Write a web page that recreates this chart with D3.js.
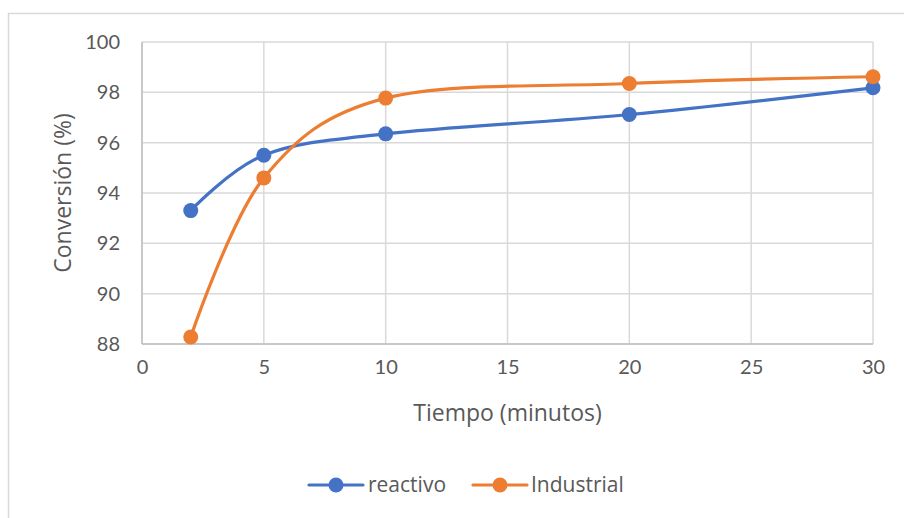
<!DOCTYPE html>
<html><head><meta charset="utf-8">
<script src="https://cdn.jsdelivr.net/npm/d3@7"></script>
<style>
html,body{margin:0;padding:0;background:#fff;}
svg{display:block;font-family:Lato,"Open Sans",sans-serif;}
</style></head>
<body>
<svg id="c" width="904" height="518"></svg>
<script>
const times = [2, 5, 10, 20, 30];
const reactivo = [93.3, 95.5, 96.35, 97.12, 98.18];
const industrial = [88.28, 94.6, 97.77, 98.35, 98.62];
const xTicks = [0, 5, 10, 15, 20, 25, 30];
const yTicks = [88, 90, 92, 94, 96, 98, 100];
const seriesNames = ["reactivo", "Industrial"];
const colors = ["#4472c4", "#ed7d31"];

const svg = d3.select("#c");
// outer frame
svg.append("rect").attr("x", 8.5).attr("y", 13.5).attr("width", 1000).attr("height", 1000)
  .attr("fill", "none").attr("stroke", "#d9d9d9").attr("stroke-width", 1.5);

const L = 142, R = 873, T = 42, B = 344;
const x = d3.scaleLinear().domain([0, 30]).range([L, R]);
const y = d3.scaleLinear().domain([88, 100]).range([B, T]);

const grid = svg.append("g");
grid.selectAll("line.v").data(xTicks).join("line")
  .attr("x1", d => x(d)).attr("x2", d => x(d)).attr("y1", T).attr("y2", B)
  .attr("stroke", "#d9d9d9").attr("stroke-width", 1.5);
grid.selectAll("line.h").data(yTicks).join("line")
  .attr("y1", d => y(d)).attr("y2", d => y(d)).attr("x1", L).attr("x2", R)
  .attr("stroke", "#d9d9d9").attr("stroke-width", 1.5);
// axis lines
svg.append("line").attr("x1", L).attr("x2", L).attr("y1", T).attr("y2", B).attr("stroke", "#bfbfbf").attr("stroke-width", 1.5);
svg.append("line").attr("x1", L).attr("x2", R).attr("y1", B).attr("y2", B).attr("stroke", "#bfbfbf").attr("stroke-width", 1.5);

const xAxis = d3.axisBottom(x).tickValues(xTicks).tickSize(0).tickPadding(16);
const gx = svg.append("g").attr("transform", `translate(0,${B})`).call(xAxis);
gx.select(".domain").remove();
gx.selectAll("text").attr("fill", "#595959").style("font-size", "20px").style("font-family", "Lato");

const yAxis = d3.axisLeft(y).tickValues(yTicks).tickSize(0).tickPadding(22);
const gy = svg.append("g").attr("transform", `translate(${L},0)`).call(yAxis);
gy.select(".domain").remove();
gy.selectAll("text").attr("fill", "#595959").style("font-size", "20px").style("font-family", "Lato");

svg.append("text").attr("x", (L + R) / 2).attr("y", 421).attr("text-anchor", "middle")
  .attr("fill", "#595959").style("font-family", "'Open Sans'").style("font-size", "23px").text("Tiempo (minutos)");
svg.append("text").attr("transform", `translate(71,${(T + B) / 2}) rotate(-90)`).attr("text-anchor", "middle")
  .attr("fill", "#595959").style("font-family", "'Open Sans'").style("font-size", "23px").text("Conversión (%)");

const line = d3.line().x(d => x(d[0])).y(d => y(d[1])).curve(d3.curveCardinal.tension(0));
[reactivo, industrial].forEach((vals, i) => {
  const pts = times.map((t, j) => [t, vals[j]]);
  svg.append("path").datum(pts).attr("d", line).attr("fill", "none")
    .attr("stroke", colors[i]).attr("stroke-width", 3.2).attr("stroke-linecap", "round");
  svg.selectAll(null).data(pts).join("circle")
    .attr("cx", d => x(d[0])).attr("cy", d => y(d[1])).attr("r", 7.5).attr("fill", colors[i]);
});

// legend
const legY = 485;
const legItems = [{x0: 309, tx: 368}, {x0: 473, tx: 531}];
seriesNames.forEach((n, i) => {
  const g = svg.append("g");
  g.append("line").attr("x1", legItems[i].x0).attr("x2", legItems[i].x0 + 54).attr("y1", legY).attr("y2", legY)
    .attr("stroke", colors[i]).attr("stroke-width", 3.2).attr("stroke-linecap", "round");
  g.append("circle").attr("cx", legItems[i].x0 + 27).attr("cy", legY).attr("r", 7.5).attr("fill", colors[i]);
  g.append("text").attr("x", legItems[i].tx).attr("y", legY + 7).attr("fill", "#595959")
    .style("font-family", "'Open Sans'").style("font-size", "21px").text(n);
});
</script>
</body></html>
